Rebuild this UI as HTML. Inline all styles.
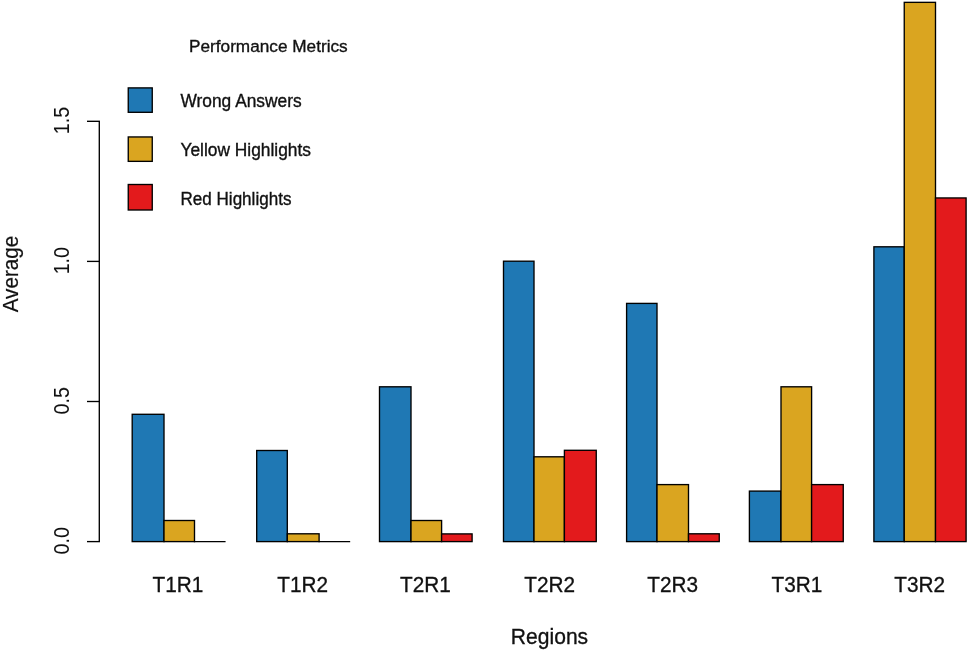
<!DOCTYPE html>
<html lang="en">
<head>
<meta charset="utf-8">
<title>Performance Metrics by Region</title>
<style>
html,body{margin:0;padding:0;background:#fff;}
body{width:968px;height:650px;overflow:hidden;}
svg{display:block;}
text{font-family:"Liberation Sans",Arial,sans-serif;fill:#111;stroke:#111;stroke-width:0.35px;}
.ax{font-size:22.9px;}
.lg{font-size:17.6px;}
.axr{font-size:21.5px;stroke-width:0.2px;}
.tk{stroke-width:0.05px;}
</style>
</head>
<body>
<svg width="968" height="650" viewBox="0 0 968 650">
<rect x="0" y="0" width="968" height="650" fill="#ffffff"/>
<g stroke="#000" stroke-width="1.35" stroke-linejoin="miter" stroke-linecap="square">
<rect x="132.20" y="414.30" width="31.80" height="127.30" fill="#1F78B4"/>
<rect x="164.00" y="520.50" width="30.50" height="21.10" fill="#DAA520"/>
<path d="M194.50 541.60 H224.90" fill="none"/>
<rect x="256.70" y="450.50" width="30.60" height="91.10" fill="#1F78B4"/>
<rect x="287.30" y="533.80" width="31.80" height="7.80" fill="#DAA520"/>
<path d="M319.10 541.60 H349.50" fill="none"/>
<rect x="379.50" y="386.80" width="31.50" height="154.80" fill="#1F78B4"/>
<rect x="411.00" y="520.50" width="30.60" height="21.10" fill="#DAA520"/>
<rect x="441.60" y="533.90" width="30.50" height="7.70" fill="#E31A1C"/>
<rect x="503.50" y="261.20" width="30.50" height="280.40" fill="#1F78B4"/>
<rect x="534.00" y="456.80" width="30.40" height="84.80" fill="#DAA520"/>
<rect x="564.40" y="450.30" width="31.85" height="91.30" fill="#E31A1C"/>
<rect x="626.60" y="303.40" width="30.40" height="238.20" fill="#1F78B4"/>
<rect x="657.00" y="484.60" width="31.50" height="57.00" fill="#DAA520"/>
<rect x="688.50" y="533.80" width="30.75" height="7.80" fill="#E31A1C"/>
<rect x="749.40" y="491.10" width="31.60" height="50.50" fill="#1F78B4"/>
<rect x="781.00" y="386.80" width="30.60" height="154.80" fill="#DAA520"/>
<rect x="811.60" y="484.60" width="31.65" height="57.00" fill="#E31A1C"/>
<rect x="873.90" y="246.80" width="30.35" height="294.80" fill="#1F78B4"/>
<rect x="904.25" y="2.35" width="31.25" height="539.25" fill="#DAA520"/>
<rect x="935.50" y="197.95" width="30.60" height="343.65" fill="#E31A1C"/>
</g>
<g stroke="#000" stroke-width="1.35" fill="none">
<path d="M99.3 541.6 V121.30"/>
<path d="M87 541.60 H99.97"/>
<path d="M87 401.50 H99.97"/>
<path d="M87 261.40 H99.97"/>
<path d="M87 121.30 H99.97"/>
</g>
<text class="axr tk" text-anchor="middle" transform="translate(69.40 540.85) rotate(-90) scale(0.915 1)">0.0</text>
<text class="axr tk" text-anchor="middle" transform="translate(69.40 400.75) rotate(-90) scale(0.915 1)">0.5</text>
<text class="axr tk" text-anchor="middle" transform="translate(69.40 260.65) rotate(-90) scale(0.915 1)">1.0</text>
<text class="axr tk" text-anchor="middle" transform="translate(69.40 120.55) rotate(-90) scale(0.915 1)">1.5</text>
<text class="axr" text-anchor="middle" transform="translate(18.40 274.00) rotate(-90) scale(0.962 1)">Average</text>
<text class="ax" text-anchor="middle" transform="translate(177.85 592.20) scale(0.908 1)">T1R1</text>
<text class="ax" text-anchor="middle" transform="translate(302.60 592.20) scale(0.908 1)">T1R2</text>
<text class="ax" text-anchor="middle" transform="translate(425.35 592.20) scale(0.908 1)">T2R1</text>
<text class="ax" text-anchor="middle" transform="translate(549.75 592.20) scale(0.908 1)">T2R2</text>
<text class="ax" text-anchor="middle" transform="translate(672.75 592.20) scale(0.908 1)">T2R3</text>
<text class="ax" text-anchor="middle" transform="translate(796.95 592.20) scale(0.908 1)">T3R1</text>
<text class="ax" text-anchor="middle" transform="translate(919.60 592.20) scale(0.908 1)">T3R2</text>
<text class="ax" text-anchor="middle" transform="translate(549.50 643.50) scale(0.92 1)">Regions</text>
<text text-anchor="start" style="font-size:17.3px" transform="translate(189 51.7) scale(0.995 1)">Performance Metrics</text>
<rect x="128.25" y="87.90" width="24" height="24.40" fill="#1F78B4" stroke="#000" stroke-width="1.35"/>
<text class="lg" text-anchor="start" transform="translate(180.50 107.25) scale(0.9858 1)">Wrong Answers</text>
<rect x="128.25" y="136.95" width="24" height="24.40" fill="#DAA520" stroke="#000" stroke-width="1.35"/>
<text class="lg" text-anchor="start" transform="translate(180.50 155.90) scale(0.9858 1)">Yellow Highlights</text>
<rect x="128.25" y="184.50" width="24" height="25.50" fill="#E31A1C" stroke="#000" stroke-width="1.35"/>
<text class="lg" text-anchor="start" transform="translate(180.50 205.10) scale(0.9692 1)">Red Highlights</text>
</svg>
</body>
</html>
